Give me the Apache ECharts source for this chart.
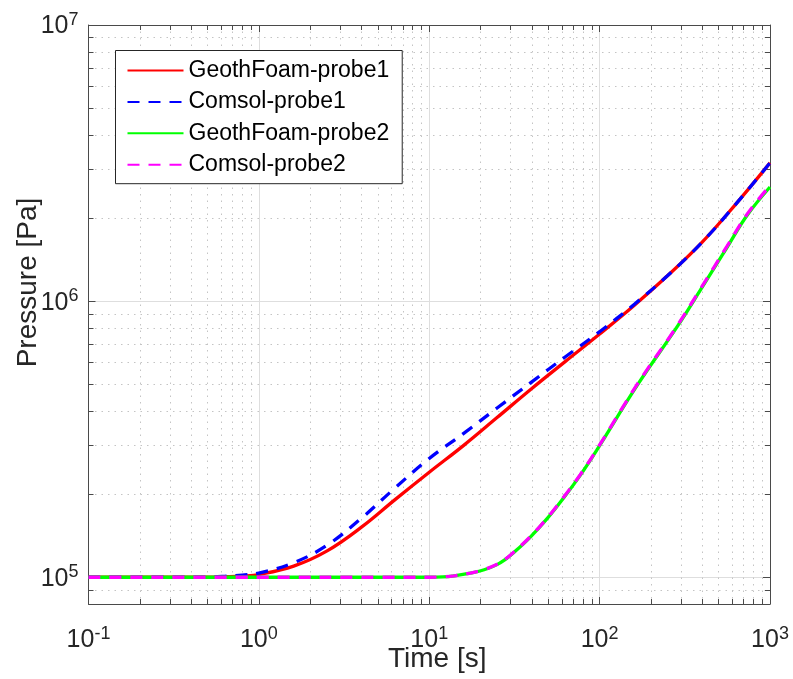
<!DOCTYPE html>
<html>
<head>
<meta charset="utf-8">
<script src="https://cdn.jsdelivr.net/npm/echarts@6/dist/echarts.min.js"></script>
<style>
html,body{margin:0;padding:0;background:#ffffff;}
#chart{width:793px;height:679px;}
</style>
</head>
<body>
<div id="chart"></div>
<script>
// ---------------- data ----------------
const seriesNames = ['GeothFoam-probe1', 'Comsol-probe1', 'GeothFoam-probe2', 'Comsol-probe2'];

const timeGF1 = [0.1, 0.3, 0.5, 0.63, 0.8, 1, 1.6, 2.5, 4, 6.3, 10, 16, 25, 40, 63, 100, 160, 250, 400, 630, 1000];
const pressureGF1 = [1e5, 1e5, 1e5, 1.004e5, 1.01e5, 1.023e5, 1.097e5, 1.243e5, 1.518e5, 1.91e5, 2.40e5, 3.01e5, 3.786e5, 4.825e5, 6.05e5, 7.60e5, 9.67e5, 1.235e6, 1.636e6, 2.246e6, 3.167e6];

const timeCS1 = [0.1, 0.3, 0.5, 0.63, 0.8, 1, 1.6, 2.5, 4, 6.3, 10, 16, 25, 40, 63, 100, 160, 250, 400, 630, 1000];
const pressureCS1 = [1e5, 1e5, 1.002e5, 1.008e5, 1.018e5, 1.035e5, 1.129e5, 1.303e5, 1.636e5, 2.106e5, 2.692e5, 3.327e5, 4.10e5, 5.10e5, 6.29e5, 7.75e5, 9.75e5, 1.235e6, 1.636e6, 2.246e6, 3.167e6];

const timeGF2 = [0.1, 1, 5, 10, 12, 14, 17.4, 21, 25, 28, 31.1, 39.2, 49.3, 61.1, 76.9, 96.8, 166, 286, 390, 561, 736, 1000];
const pressureGF2 = [1e5, 1e5, 1e5, 1e5, 1.003e5, 1.012e5, 1.034e5, 1.064e5, 1.111e5, 1.160e5, 1.223e5, 1.398e5, 1.634e5, 1.93e5, 2.339e5, 2.904e5, 4.95e5, 8.10e5, 1.096e6, 1.57e6, 2.05e6, 2.59e6];

const timeCS2 = [0.1, 1, 5, 10, 12, 14, 17.4, 21, 25, 28, 31.1, 39.2, 49.3, 61.1, 76.9, 96.8, 166, 286, 390, 561, 736, 1000];
const pressureCS2 = [1e5, 1e5, 1e5, 1e5, 1.003e5, 1.012e5, 1.035e5, 1.066e5, 1.114e5, 1.164e5, 1.228e5, 1.403e5, 1.64e5, 1.94e5, 2.35e5, 2.92e5, 4.99e5, 8.16e5, 1.105e6, 1.585e6, 2.07e6, 2.62e6];

// axis ranges and tick labels (powers of ten)
const xRange = [0.1, 1000];
const yRange = [8e4, 1e7];
const xTickExponents = [-1, 0, 1, 2, 3];
const yTickExponents = [5, 6, 7];
const minorMultipliers = [2, 3, 4, 5, 6, 7, 8, 9];

const xTitle = 'Time [s]';
const yTitle = 'Pressure [Pa]';

// ---------------- helpers ----------------
const FONT = "'Liberation Sans', Arial, Helvetica, sans-serif";
const lg = Math.log10;
const xMin = lg(xRange[0]), xMax = lg(xRange[1]);
const yMin = lg(yRange[0]), yMax = lg(yRange[1]);

function minorValues(lo, hi) {
  const out = [];
  for (let e = Math.floor(lo) - 1; e <= Math.ceil(hi); e++) {
    minorMultipliers.forEach(m => {
      const v = e + lg(m);
      if (v > lo + 1e-9 && v < hi - 1e-9) out.push(v);
    });
  }
  return out;
}
const xMinor = minorValues(xMin, xMax);
const yMinor = minorValues(yMin, yMax);

const AXIS_COLOR = '#4a4a4a';
const TEXT_COLOR = '#262626';
const MAJOR_GRID = '#dedede';
const MINOR_GRID = '#c4c4c4';

const richPow = {
  b: { fontSize: 25, lineHeight: 28, fontFamily: FONT, color: TEXT_COLOR, verticalAlign: 'bottom' },
  s: { fontSize: 18, lineHeight: 18, fontFamily: FONT, color: TEXT_COLOR, verticalAlign: 'top' }
};
const powFormatter = v => '{b|10}{s|' + Math.round(v) + '}';

function baseAxis(min, max) {
  return { type: 'value', min: min, max: max, gridIndex: 0, scale: false };
}

const xAxes = [
  Object.assign(baseAxis(xMin, xMax), {
    position: 'bottom',
    axisLine: { show: true, onZero: false, lineStyle: { color: AXIS_COLOR, width: 1 } },
    axisTick: { show: true, inside: true, length: 7, customValues: xTickExponents, lineStyle: { color: AXIS_COLOR } },
    axisLabel: { show: true, customValues: xTickExponents, margin: 21, formatter: powFormatter, rich: richPow },
    splitLine: { show: true, lineStyle: { color: MAJOR_GRID, width: 1, type: 'solid' } },
    name: xTitle, nameLocation: 'middle', nameGap: 41, nameMoveOverlap: false,
    nameTextStyle: { fontSize: 28, fontFamily: FONT, color: TEXT_COLOR, padding: [0, 0, 0, 16] }
  }),
  Object.assign(baseAxis(xMin, xMax), {
    position: 'bottom',
    axisLine: { show: false, onZero: false },
    axisTick: { show: true, inside: true, length: 5, customValues: xMinor, lineStyle: { color: AXIS_COLOR } },
    axisLabel: { show: false },
    splitLine: { show: true, lineStyle: { color: MINOR_GRID, width: 1, type: [1.5, 5] } }
  }),
  Object.assign(baseAxis(xMin, xMax), {
    position: 'top',
    axisLine: { show: true, onZero: false, lineStyle: { color: AXIS_COLOR, width: 1 } },
    axisTick: { show: true, inside: true, length: 7, customValues: xTickExponents, lineStyle: { color: AXIS_COLOR } },
    axisLabel: { show: false },
    splitLine: { show: false }
  }),
  Object.assign(baseAxis(xMin, xMax), {
    position: 'top',
    axisLine: { show: false, onZero: false },
    axisTick: { show: true, inside: true, length: 5, customValues: xMinor, lineStyle: { color: AXIS_COLOR } },
    axisLabel: { show: false },
    splitLine: { show: false }
  })
];

const yAxes = [
  Object.assign(baseAxis(yMin, yMax), {
    position: 'left',
    axisLine: { show: true, onZero: false, lineStyle: { color: AXIS_COLOR, width: 1 } },
    axisTick: { show: true, inside: true, length: 7, customValues: yTickExponents, lineStyle: { color: AXIS_COLOR } },
    axisLabel: { show: true, customValues: yTickExponents, margin: 10, formatter: powFormatter, rich: richPow },
    splitLine: { show: true, lineStyle: { color: MAJOR_GRID, width: 1, type: 'solid' } },
    name: yTitle, nameLocation: 'middle', nameGap: 46, nameRotate: 90, nameMoveOverlap: false,
    nameTextStyle: { fontSize: 28, fontFamily: FONT, color: TEXT_COLOR, padding: [0, 0, 0, 64] }
  }),
  Object.assign(baseAxis(yMin, yMax), {
    position: 'left',
    axisLine: { show: false, onZero: false },
    axisTick: { show: true, inside: true, length: 5, customValues: yMinor, lineStyle: { color: AXIS_COLOR } },
    axisLabel: { show: false },
    splitLine: { show: true, lineStyle: { color: MINOR_GRID, width: 1, type: [1.5, 5] } }
  }),
  Object.assign(baseAxis(yMin, yMax), {
    position: 'right',
    axisLine: { show: true, onZero: false, lineStyle: { color: AXIS_COLOR, width: 1 } },
    axisTick: { show: true, inside: true, length: 7, customValues: yTickExponents, lineStyle: { color: AXIS_COLOR } },
    axisLabel: { show: false },
    splitLine: { show: false }
  }),
  Object.assign(baseAxis(yMin, yMax), {
    position: 'right',
    axisLine: { show: false, onZero: false },
    axisTick: { show: true, inside: true, length: 5, customValues: yMinor, lineStyle: { color: AXIS_COLOR } },
    axisLabel: { show: false },
    splitLine: { show: false }
  })
];

function toLogPairs(ts, ps) {
  return ts.map((t, i) => [lg(t), lg(ps[i])]);
}

function mkSeries(name, ts, ps, color, dashed) {
  return {
    name: name,
    type: 'line',
    xAxisIndex: 0,
    yAxisIndex: 0,
    data: toLogPairs(ts, ps),
    symbol: 'none',
    showSymbol: false,
    smooth: 0.4,
    color: color,
    lineStyle: { color: color, width: 3.3, type: dashed ? [12, 9] : 'solid', cap: 'butt' },
    emphasis: { disabled: true },
    animation: false
  };
}

const chart = echarts.init(document.getElementById('chart'), null, { renderer: 'canvas' });
chart.setOption({
  animation: false,
  backgroundColor: '#ffffff',
  textStyle: { fontFamily: FONT },
  grid: { left: 88.5, right: 23, top: 25, bottom: 75, containLabel: false, outerBoundsMode: 'none' },
  legend: {
    show: true,
    orient: 'vertical',
    left: 115.5,
    top: 50.5,
    data: seriesNames,
    backgroundColor: '#ffffff',
    borderColor: '#262626',
    borderWidth: 1,
    borderRadius: 0,
    padding: [7, 13, 6, 11],
    itemGap: 5.4,
    itemWidth: 56,
    itemHeight: 14,
    selectedMode: false,
    itemStyle: { opacity: 0 },
    textStyle: { fontSize: 23, lineHeight: 26, color: '#000000', fontFamily: FONT }
  },
  xAxis: xAxes,
  yAxis: yAxes,
  series: [
    mkSeries(seriesNames[0], timeGF1, pressureGF1, '#ff0000', false),
    mkSeries(seriesNames[1], timeCS1, pressureCS1, '#0000ff', true),
    mkSeries(seriesNames[2], timeGF2, pressureGF2, '#00ff00', false),
    mkSeries(seriesNames[3], timeCS2, pressureCS2, '#ff00ff', true)
  ]
});
</script>
</body>
</html>
